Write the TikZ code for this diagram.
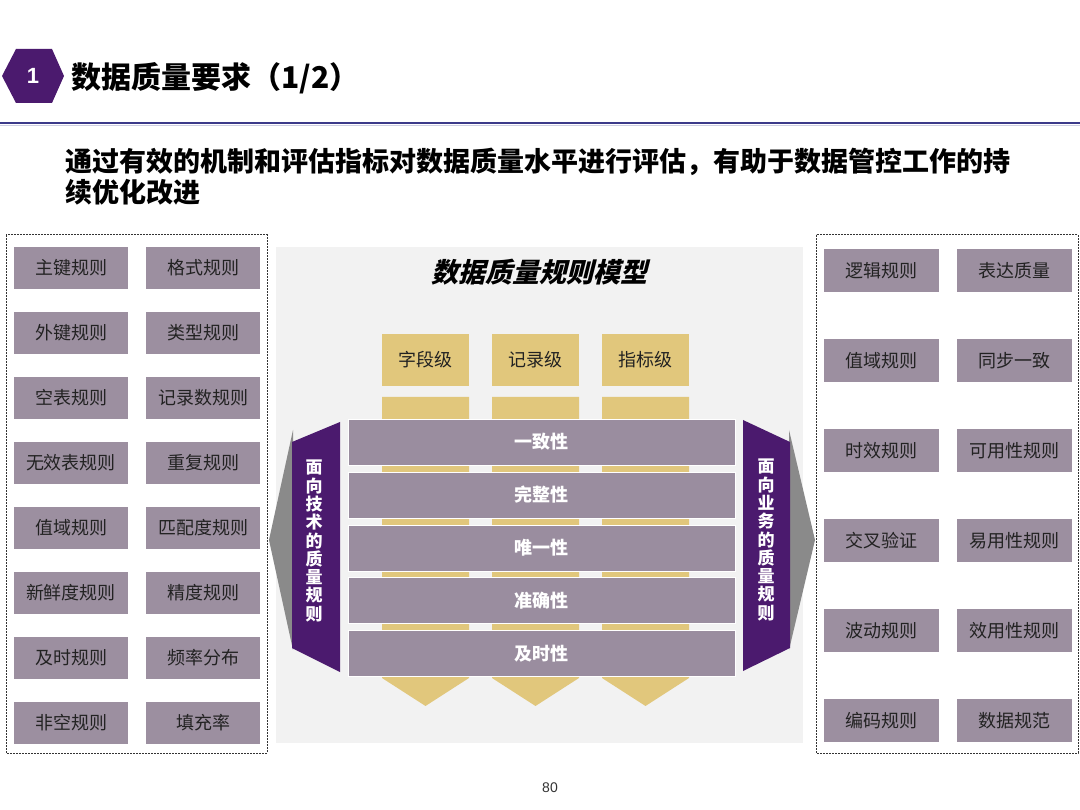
\documentclass[tikz,border=0pt]{standalone}
\usepackage{fontspec}
\setmainfont{Noto Sans CJK SC}
\newfontfamily\itcjk{Noto Sans CJK SC}[FakeSlant=0.25]
\newfontfamily\arialf{Liberation Sans}
\definecolor{purp}{HTML}{4B1A6E}
\definecolor{boxg}{HTML}{9C8FA0}
\definecolor{barg}{HTML}{9A8D9F}
\definecolor{gold}{HTML}{E1C77C}
\definecolor{panel}{HTML}{F2F2F2}
\definecolor{navy}{HTML}{3C3A8A}
\definecolor{arrowg}{HTML}{8A8A8A}
\definecolor{txt}{HTML}{222222}
\tikzset{
  rulebox/.style={fill=boxg, minimum width=114pt, minimum height=42pt, inner sep=0pt,
    font=\fontsize{18}{18}\selectfont, text=txt},
  rbox/.style={rulebox, minimum width=115pt, minimum height=43pt},
  qbar/.style={fill=barg, draw=white, line width=0.8pt, minimum width=387pt, minimum height=46pt,
    inner sep=0pt, text=white, font=\fontsize{18}{18}\selectfont\bfseries},
  hdr/.style={fill=gold, minimum width=87pt, minimum height=52pt, inner sep=0pt, text=txt,
    font=\fontsize{18}{18}\selectfont},
  dbox/.style={draw=black!80, line width=1pt, dash pattern=on 2pt off 1pt},
  vtext/.style={text=white, align=center, inner sep=0pt,
    font=\fontsize{17}{18.3}\selectfont\bfseries},
}
\begin{document}
\begin{tikzpicture}[x=1pt,y=-1pt]
\useasboundingbox (0,0) rectangle (1080,810);
\fill[white] (0,0) rectangle (1080,810);
% header
\fill[purp] (2,76) -- (16,49) -- (52,49) -- (64,76) -- (52,103) -- (16,103) -- cycle;
\node[text=white, font=\arialf\fontsize{22}{22}\selectfont\bfseries] (num) at (33,76) {1};
\node[anchor=west, inner sep=0pt, font=\fontsize{30}{30}\selectfont\bfseries, text=black] (title) at (71,78) {数据质量要求（1/2）};
\draw[navy, line width=2.6pt] (0,123) -- (1080,123);
\draw[navy!25, line width=1.2pt] (0,125.5) -- (1080,125.5);
\node[anchor=north west, inner sep=0pt, align=left, font=\fontsize{27}{31}\selectfont\bfseries, text=black] (sub) at (65,148)
  {通过有效的机制和评估指标对数据质量水平进行评估，有助于数据管控工作的持\\续优化改进};
% left and right dashed frames
\draw[dbox] (6,235) rectangle (267,753);
\draw[dbox] (816,235) rectangle (1078,753);
% central panel
\fill[panel] (276,247) rectangle (803,743);
\node[font=\itcjk\fontsize{27}{27}\selectfont\bfseries, text=black] (mtitle) at (539,272) {数据质量规则模型};
% gray arrows
\fill[arrowg] (293,430) -- (269,540) -- (293,650) -- cycle;
\fill[arrowg] (789,430) -- (815,540) -- (789,650) -- cycle;
% gold columns
\foreach \xa/\xb in {382/469, 492/579, 602/689}{
  \fill[gold] (\xa,397) -- (\xb,397) -- (\xb,678) -- ({(\xa+\xb)/2},706) -- (\xa,678) -- cycle;
}
\node[hdr] (c1) at (425.5,360) {字段级};
\node[hdr] (c2) at (535.5,360) {记录级};
\node[hdr] (c3) at (645.5,360) {指标级};
% bars
\node[qbar] (b1) at (541.5,442) {一致性};
\node[qbar] (b2) at (541.5,495) {完整性};
\node[qbar] (b3) at (541.5,548) {唯一性};
\node[qbar] (b4) at (541.5,600.5) {准确性};
\node[qbar] (b5) at (541.5,653.5) {及时性};
% banners
\fill[purp] (292,442) -- (340,422) -- (340,672) -- (292,648) -- cycle;
\fill[purp] (743,420) -- (790,442) -- (790,648) -- (743,671) -- cycle;
\node[vtext] (lban) at (314,541) {面\\向\\技\\术\\的\\质\\量\\规\\则};
\node[vtext] (rban) at (766,540) {面\\向\\业\\务\\的\\质\\量\\规\\则};
% left rule boxes
\foreach \a/\b [count=\i from 0] in {主键规则/格式规则, 外键规则/类型规则, 空表规则/记录数规则,
  无效表规则/重复规则, 值域规则/匹配度规则, 新鲜度规则/精度规则, 及时规则/频率分布, 非空规则/填充率}{
  \node[rulebox] (l\i a) at (71,{268+65*\i}) {\a};
  \node[rulebox] (l\i b) at (203,{268+65*\i}) {\b};
}
% right rule boxes
\foreach \a/\b [count=\i from 0] in {逻辑规则/表达质量, 值域规则/同步一致, 时效规则/可用性规则,
  交叉验证/易用性规则, 波动规则/效用性规则, 编码规则/数据规范}{
  \node[rbox] (r\i a) at (881.5,{270.5+90*\i}) {\a};
  \node[rbox] (r\i b) at (1014.5,{270.5+90*\i}) {\b};
}
\node[font=\arialf\fontsize{14}{14}\selectfont, text=black!80] (page) at (550,788) {80};
\end{tikzpicture}
\end{document}
